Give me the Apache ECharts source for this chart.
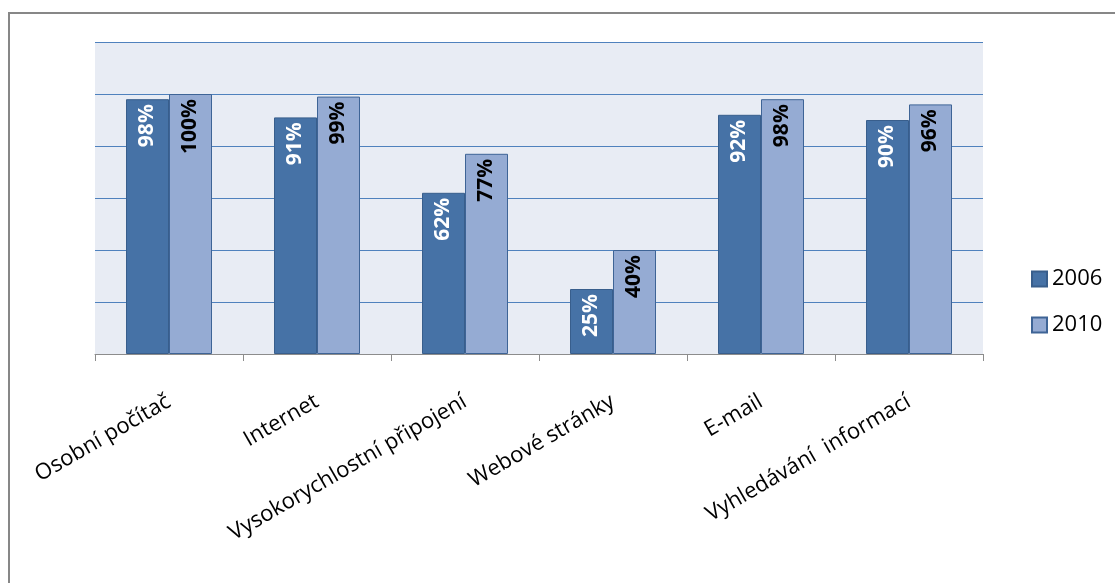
<!DOCTYPE html>
<html>
<head>
<meta charset="utf-8">
<script src="https://cdn.jsdelivr.net/npm/echarts@6/dist/echarts.min.js"></script>
<style>
  html, body { margin: 0; padding: 0; background: #fff; }
  #chart { width: 1115px; height: 583px; }
</style>
</head>
<body>
<div id="chart"></div>
<script>
// data
const categories = ['Osobní počítač', 'Internet', 'Vysokorychlostní připojení', 'Webové stránky', 'E-mail', 'Vyhledávání  informací']
const values2006 = [98, 91, 62, 25, 92, 90]
const values2010 = [100, 99, 77, 40, 98, 96]
const seriesNames = ['2006', '2010']

const font = '"Open Sans", "DejaVu Sans", sans-serif'

let myEcharts = echarts.init(document.getElementById('chart'))

function barLabel(color) {
  return {
    show: true,
    position: 'insideTop',
    rotate: 90,
    align: 'right',
    verticalAlign: 'middle',
    distance: 5,
    color: color,
    fontFamily: font,
    fontWeight: 'bold',
    fontSize: 21,
    formatter: '{c}%'
  }
}

let option = {
  animation: false,
  backgroundColor: '#fff',
  graphic: [
    {
      type: 'rect',
      shape: { x: 9, y: 13, width: 1200, height: 700 },
      style: { fill: 'none', stroke: '#878787', lineWidth: 2 },
      silent: true
    }
  ],
  grid: {
    left: 95,
    right: 132,
    top: 42,
    bottom: 229,
    show: true,
    backgroundColor: '#E8ECF4',
    borderWidth: 0
  },
  legend: {
    orient: 'vertical',
    left: 1026,
    top: 263,
    itemWidth: 15,
    itemHeight: 15,
    itemGap: 24,
    icon: 'rect',
    textStyle: { fontFamily: font, fontSize: 22, color: '#000' },
    data: seriesNames
  },
  xAxis: {
    type: 'category',
    data: categories,
    axisLine: { lineStyle: { color: '#8c8c8c', width: 1 } },
    axisTick: { show: true, length: 7, lineStyle: { color: '#8c8c8c' } },
    axisLabel: {
      rotate: 30,
      interval: 0,
      margin: 46,
      color: '#000',
      fontFamily: font,
      fontSize: 22
    }
  },
  yAxis: {
    type: 'value',
    min: 0,
    max: 120,
    interval: 20,
    axisLabel: { show: false },
    axisLine: { show: false },
    axisTick: { show: false },
    splitLine: { lineStyle: { color: '#4F81BD', width: 1 } }
  },
  series: [
    {
      name: seriesNames[0],
      type: 'bar',
      data: values2006,
      barWidth: 43,
      barGap: '0%',
      itemStyle: { color: '#4672A6', borderColor: '#385E8C', borderWidth: 1 },
      label: barLabel('#fff')
    },
    {
      name: seriesNames[1],
      type: 'bar',
      data: values2010,
      barWidth: 43,
      itemStyle: { color: '#95ABD3', borderColor: '#3E6496', borderWidth: 1 },
      label: barLabel('#000')
    }
  ]
}

myEcharts.setOption(option)
</script>
</body>
</html>
